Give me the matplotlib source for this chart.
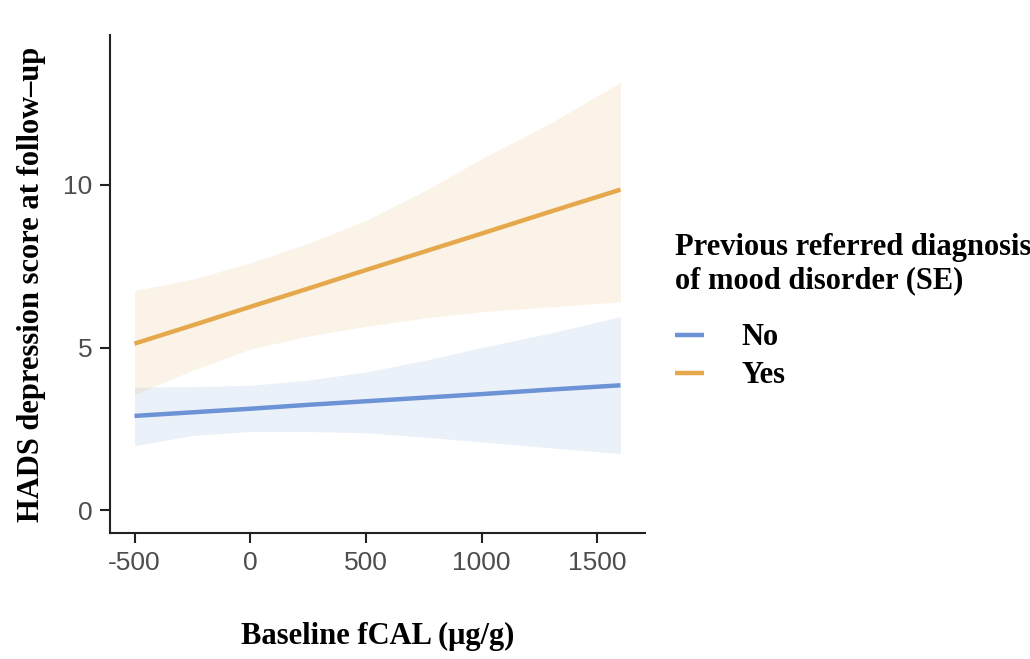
import matplotlib
matplotlib.use("Agg")
import matplotlib.pyplot as plt

# baseline fCAL grid and model estimates
fcal = [-500, -250, 0, 250, 500, 750, 1000, 1300, 1600]

no_fit = [2.90, 3.01, 3.12, 3.24, 3.35, 3.46, 3.57, 3.71, 3.84]
no_upper = [3.78, 3.80, 3.84, 4.00, 4.25, 4.60, 5.00, 5.45, 5.95]
no_lower = [1.98, 2.30, 2.42, 2.42, 2.38, 2.25, 2.10, 1.92, 1.74]

yes_fit = [5.12, 5.68, 6.25, 6.81, 7.38, 7.94, 8.50, 9.18, 9.85]
yes_upper = [6.75, 7.10, 7.60, 8.20, 8.90, 9.80, 10.80, 11.90, 13.15]
yes_lower = [3.55, 4.30, 4.95, 5.35, 5.65, 5.90, 6.10, 6.25, 6.40]

group_labels = ["No", "Yes"]
x_ticks = [-500, 0, 500, 1000, 1500]
y_ticks = [0, 5, 10]

blue = "#6b93d6"
orange = "#e5a84c"

plt.rcParams["axes.unicode_minus"] = False

fig = plt.figure(figsize=(10.3, 6.59), dpi=100)
ax = fig.add_axes([0.107, 0.191, 0.519, 0.756])

ax.fill_between(fcal, no_lower, no_upper, color=blue, alpha=0.13, linewidth=0)
ax.fill_between(fcal, yes_lower, yes_upper, color=orange, alpha=0.13, linewidth=0)
ax.plot(fcal, no_fit, color=blue, lw=3.2, label=group_labels[0], solid_capstyle="butt")
ax.plot(fcal, yes_fit, color=orange, lw=3.2, label=group_labels[1], solid_capstyle="butt")

ax.set_xlim(-605, 1705)
ax.set_ylim(-0.7, 14.6)
ax.set_xticks(x_ticks)
ax.set_yticks(y_ticks)
ax.spines["top"].set_visible(False)
ax.spines["right"].set_visible(False)
for s in ["left", "bottom"]:
    ax.spines[s].set_linewidth(1.5)
    ax.spines[s].set_color("#222222")
ax.tick_params(axis="both", length=7, width=1.5, color="#222222",
               labelsize=19, labelcolor="#4d4d4d", pad=6)
for t in ax.get_xticklabels() + ax.get_yticklabels():
    t.set_family("Liberation Sans")

serif = {"family": "Liberation Serif", "weight": "bold", "size": 22}
ax.set_xlabel("Baseline fCAL (\u03bcg/g)", fontdict=serif, labelpad=34)
ax.set_ylabel("HADS depression score at follow\u2013up", fontdict=serif, labelpad=12)

leg = fig.legend(loc="upper left", bbox_to_anchor=(0.629, 0.688), frameon=False,
                 title="Previous referred diagnosis\nof mood disorder (SE)",
                 handlelength=0.95, handletextpad=1.2, labelspacing=0.3,
                 prop={"family": "Liberation Serif", "weight": "bold", "size": 22})
leg.get_title().set_fontproperties({"family": "Liberation Serif", "weight": "bold", "size": 22})
leg._legend_box.align = "left"
leg._legend_box.sep = 20
for h in leg.legend_handles:
    h.set_linewidth(3.2)

fig.savefig("out.png", dpi=100, facecolor="white")
